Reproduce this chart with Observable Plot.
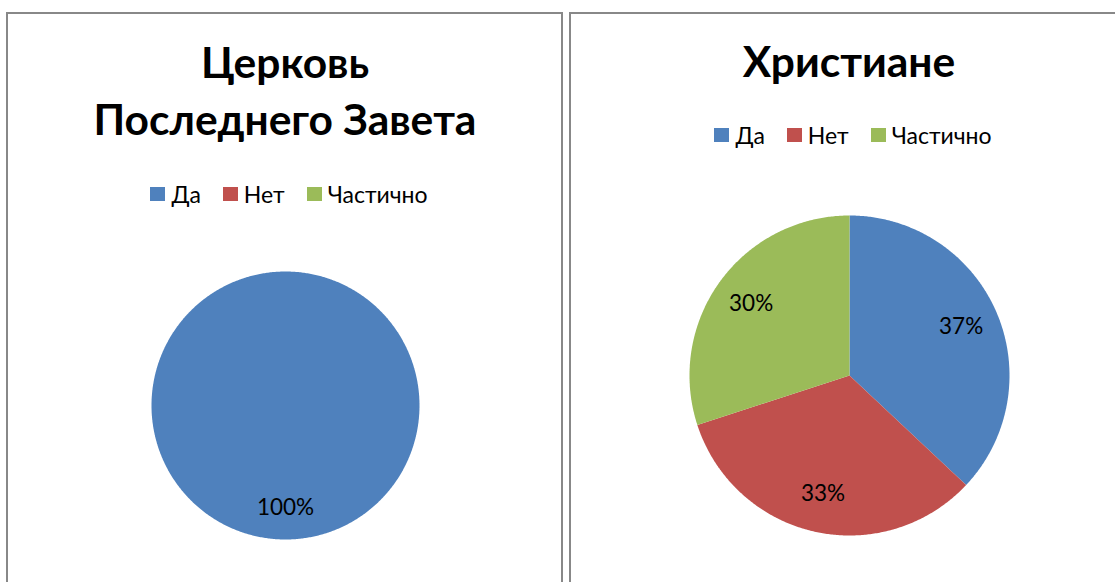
<!DOCTYPE html>
<html>
<head>
<meta charset="utf-8">
<script src="https://cdn.jsdelivr.net/npm/d3@7"></script>
<script src="https://cdn.jsdelivr.net/npm/@observablehq/plot@0.6"></script>
<style>
  html, body { margin: 0; padding: 0; background: #fff; }
  body { width: 1115px; height: 582px; position: relative; overflow: hidden; font-family: Lato, "Open Sans", "Noto Sans", sans-serif; color: #000; }
  .panel { position: absolute; top: 12px; height: 600px; border: 2px solid #888; box-sizing: border-box; }
  .title { position: absolute; text-align: center; font-weight: bold; font-size: 42.5px; line-height: 57px; white-space: nowrap; }
  .legend { position: absolute; display: flex; align-items: center; font-size: 23px; white-space: nowrap; }
  .legend .item { display: flex; align-items: center; margin-right: 22px; }
  .legend .item:last-child { margin-right: 0; }
  .legend .sw { width: 15px; height: 14px; margin-right: 6px; }
  .overlay { position: absolute; left: 0; top: 0; }
</style>
</head>
<body>
<div class="panel" style="left:6px; width:557px;"></div>
<div class="panel" style="left:569px; width:600px;"></div>
<div id="root"></div>
<script>
// ---- data ----
const categories = ["Да", "Нет", "Частично"];
const colors = ["#4F81BD", "#C0504D", "#9BBB59"];
const churchTitle = ["Церковь", "Последнего Завета"];
const churchValues = [100, 0, 0];
const christianTitle = ["Христиане"];
const christianValues = [37, 33, 30];

const root = document.getElementById("root");

function addTitle(lines, cx, top) {
  const d = document.createElement("div");
  d.className = "title";
  d.style.left = (cx - 300) + "px";
  d.style.width = "600px";
  d.style.top = top + "px";
  d.innerHTML = lines.join("<br>");
  root.appendChild(d);
}

function addLegend(cx, top) {
  const d = document.createElement("div");
  d.className = "legend";
  d.style.top = top + "px";
  categories.forEach((c, i) => {
    const it = document.createElement("div");
    it.className = "item";
    const sw = document.createElement("div");
    sw.className = "sw";
    sw.style.background = colors[i];
    const t = document.createElement("span");
    t.textContent = c;
    it.appendChild(sw); it.appendChild(t);
    d.appendChild(it);
  });
  root.appendChild(d);
  const w = d.getBoundingClientRect().width;
  d.style.left = (cx - w / 2) + "px";
}

function addPie(values, cx, cy, r) {
  const rows = categories.map((c, i) => ({key: c, value: values[i]}));
  const arcs = d3.pie().sort(null).value(d => d.value)(rows).filter(a => a.data.value > 0);
  const pts = [];
  for (const a of arcs) {
    const n = Math.max(2, Math.ceil((a.endAngle - a.startAngle) / (Math.PI / 360)));
    const full = a.endAngle - a.startAngle >= 2 * Math.PI - 1e-9;
    if (!full) pts.push({key: a.data.key, x: 0, y: 0});
    for (let k = 0; k <= n; k++) {
      const t = a.startAngle + (a.endAngle - a.startAngle) * k / n;
      pts.push({key: a.data.key, x: Math.sin(t), y: Math.cos(t)});
    }
    if (!full) pts.push({key: a.data.key, x: 0, y: 0});
  }
  const labels = arcs.map(a => {
    const m = (a.startAngle + a.endAngle) / 2;
    return {label: a.data.value + "%", x: 0.76 * Math.sin(m), y: 0.76 * Math.cos(m)};
  });
  const svg = Plot.plot({
    width: 1115, height: 582,
    margin: 0,
    x: {domain: [-1, 1], range: [cx - r, cx + r], axis: null},
    y: {domain: [-1, 1], range: [cy + r, cy - r], axis: null},
    color: {domain: categories, range: colors},
    style: {background: "transparent", overflow: "visible"},
    marks: [
      Plot.line(pts, {x: "x", y: "y", z: "key", fill: "key", stroke: "none", curve: "linear"}),
      Plot.text(labels, {x: "x", y: "y", text: "label", fontSize: 22.5, fill: "#000", textAnchor: "middle", lineAnchor: "middle", fontFamily: "Lato, 'Open Sans', sans-serif"})
    ]
  });
  svg.classList.add("overlay");
  root.appendChild(svg);
}

addPie(churchValues, 285, 405, 134);
addPie(christianValues, 849, 375, 160);
addTitle(churchTitle, 285, 33);
addTitle(christianTitle, 849, 32);
addLegend(289, 180);
addLegend(853, 121);
</script>
</body>
</html>
